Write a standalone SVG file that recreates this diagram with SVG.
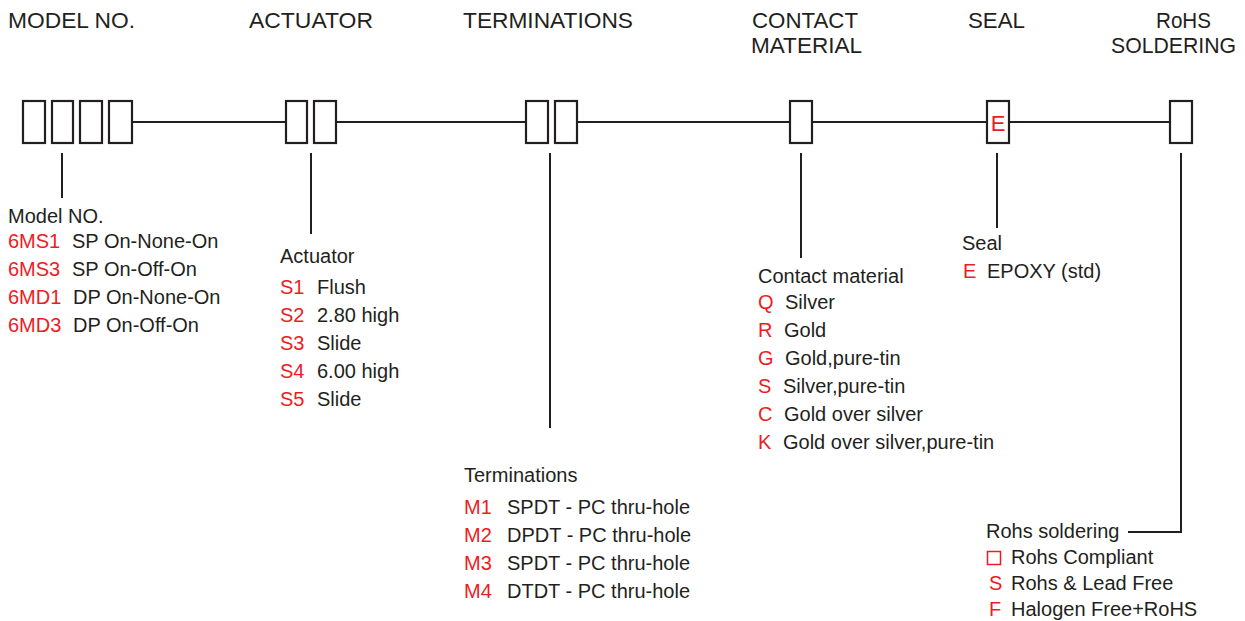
<svg xmlns="http://www.w3.org/2000/svg" width="1245" height="621" viewBox="0 0 1245 621">
<style>
text{font-family:"Liberation Sans",Arial,sans-serif;fill:#231f20}
.h{font-size:22.4px}
.t{font-size:20px}
.r{fill:#ed1c24}
.box{fill:#fff;stroke:#231f20;stroke-width:2.2}
.ln{stroke:#231f20;stroke-width:2;fill:none}
</style>
<rect width="1245" height="621" fill="#fff"/>
<g id="headers" class="h">
<text x="8" y="28" textLength="127" lengthAdjust="spacingAndGlyphs">MODEL NO.</text>
<text x="249" y="28" textLength="124" lengthAdjust="spacingAndGlyphs">ACTUATOR</text>
<text x="463" y="28" textLength="170" lengthAdjust="spacingAndGlyphs">TERMINATIONS</text>
<text x="752" y="28" textLength="106" lengthAdjust="spacingAndGlyphs">CONTACT</text>
<text x="751" y="53" textLength="111" lengthAdjust="spacingAndGlyphs">MATERIAL</text>
<text x="968" y="28" textLength="57" lengthAdjust="spacingAndGlyphs">SEAL</text>
<text x="1156" y="28" textLength="55" lengthAdjust="spacingAndGlyphs">RoHS</text>
<text x="1111" y="53" textLength="125" lengthAdjust="spacingAndGlyphs">SOLDERING</text>
</g>
<g id="connectors" class="ln">
<line x1="132" y1="122" x2="285" y2="122"/>
<line x1="336" y1="122" x2="526" y2="122"/>
<line x1="577" y1="122" x2="790" y2="122"/>
<line x1="813" y1="122" x2="987" y2="122"/>
<line x1="1009" y1="122" x2="1170" y2="122"/>
<line x1="62" y1="153" x2="62" y2="198"/>
<line x1="311" y1="153" x2="311" y2="234"/>
<line x1="550" y1="153" x2="550" y2="428"/>
<line x1="801" y1="153" x2="801" y2="258"/>
<line x1="997" y1="153" x2="997" y2="228"/>
<polyline points="1181,153 1181,532 1128,532"/>
</g>
<g id="model-boxes">
<rect class="box" x="23" y="101" width="22" height="42"/>
<rect class="box" x="52" y="101" width="21" height="42"/>
<rect class="box" x="80" y="101" width="22" height="42"/>
<rect class="box" x="109" y="101" width="23" height="42"/>
</g>
<g id="actuator-boxes">
<rect class="box" x="286" y="101" width="21" height="42"/>
<rect class="box" x="314" y="101" width="22" height="42"/>
</g>
<g id="termination-boxes">
<rect class="box" x="526" y="101" width="22" height="42"/>
<rect class="box" x="555" y="101" width="22" height="42"/>
</g>
<g id="contact-box">
<rect class="box" x="790" y="101" width="22" height="42"/>
</g>
<g id="seal-box">
<rect class="box" x="987" y="101" width="22" height="42"/>
<text class="r" x="998" y="131" text-anchor="middle" font-size="22">E</text>
</g>
<g id="rohs-box">
<rect class="box" x="1170" y="101" width="22" height="42"/>
</g>
<g id="model-list" class="t">
<text x="8" y="223">Model NO.</text>
<text x="8" y="248"><tspan class="r">6MS1</tspan><tspan x="72">SP On-None-On</tspan></text>
<text x="8" y="276"><tspan class="r">6MS3</tspan><tspan x="72">SP On-Off-On</tspan></text>
<text x="8" y="304"><tspan class="r">6MD1</tspan><tspan x="73">DP On-None-On</tspan></text>
<text x="8" y="332"><tspan class="r">6MD3</tspan><tspan x="73">DP On-Off-On</tspan></text>
</g>
<g id="actuator-list" class="t">
<text x="280" y="263">Actuator</text>
<text x="280" y="294"><tspan class="r">S1</tspan><tspan x="317">Flush</tspan></text>
<text x="280" y="322"><tspan class="r">S2</tspan><tspan x="317">2.80 high</tspan></text>
<text x="280" y="350"><tspan class="r">S3</tspan><tspan x="317">Slide</tspan></text>
<text x="280" y="378"><tspan class="r">S4</tspan><tspan x="317">6.00 high</tspan></text>
<text x="280" y="406"><tspan class="r">S5</tspan><tspan x="317">Slide</tspan></text>
</g>
<g id="terminations-list" class="t">
<text x="464" y="482">Terminations</text>
<text x="464" y="514"><tspan class="r">M1</tspan><tspan x="507">SPDT - PC thru-hole</tspan></text>
<text x="464" y="542"><tspan class="r">M2</tspan><tspan x="507">DPDT - PC thru-hole</tspan></text>
<text x="464" y="570"><tspan class="r">M3</tspan><tspan x="507">SPDT - PC thru-hole</tspan></text>
<text x="464" y="598"><tspan class="r">M4</tspan><tspan x="507">DTDT - PC thru-hole</tspan></text>
</g>
<g id="contact-list" class="t">
<text x="758" y="283">Contact material</text>
<text x="758" y="309"><tspan class="r">Q</tspan><tspan x="785">Silver</tspan></text>
<text x="758" y="337"><tspan class="r">R</tspan><tspan x="784">Gold</tspan></text>
<text x="758" y="365"><tspan class="r">G</tspan><tspan x="785">Gold,pure-tin</tspan></text>
<text x="758" y="393"><tspan class="r">S</tspan><tspan x="783">Silver,pure-tin</tspan></text>
<text x="758" y="421"><tspan class="r">C</tspan><tspan x="784">Gold over silver</tspan></text>
<text x="758" y="449"><tspan class="r">K</tspan><tspan x="783">Gold over silver,pure-tin</tspan></text>
</g>
<g id="seal-list" class="t">
<text x="962" y="250">Seal</text>
<text x="963" y="278"><tspan class="r">E</tspan><tspan x="987">EPOXY (std)</tspan></text>
</g>
<g id="rohs-list" class="t">
<text x="986" y="538">Rohs soldering</text>
<rect x="987.5" y="551.5" width="13" height="13" fill="none" stroke="#ed1c24" stroke-width="1.5"/>
<text x="1011" y="564">Rohs Compliant</text>
<text x="989" y="590"><tspan class="r">S</tspan><tspan x="1011">Rohs &amp; Lead Free</tspan></text>
<text x="989" y="616"><tspan class="r">F</tspan><tspan x="1011">Halogen Free+RoHS</tspan></text>
</g>
</svg>
